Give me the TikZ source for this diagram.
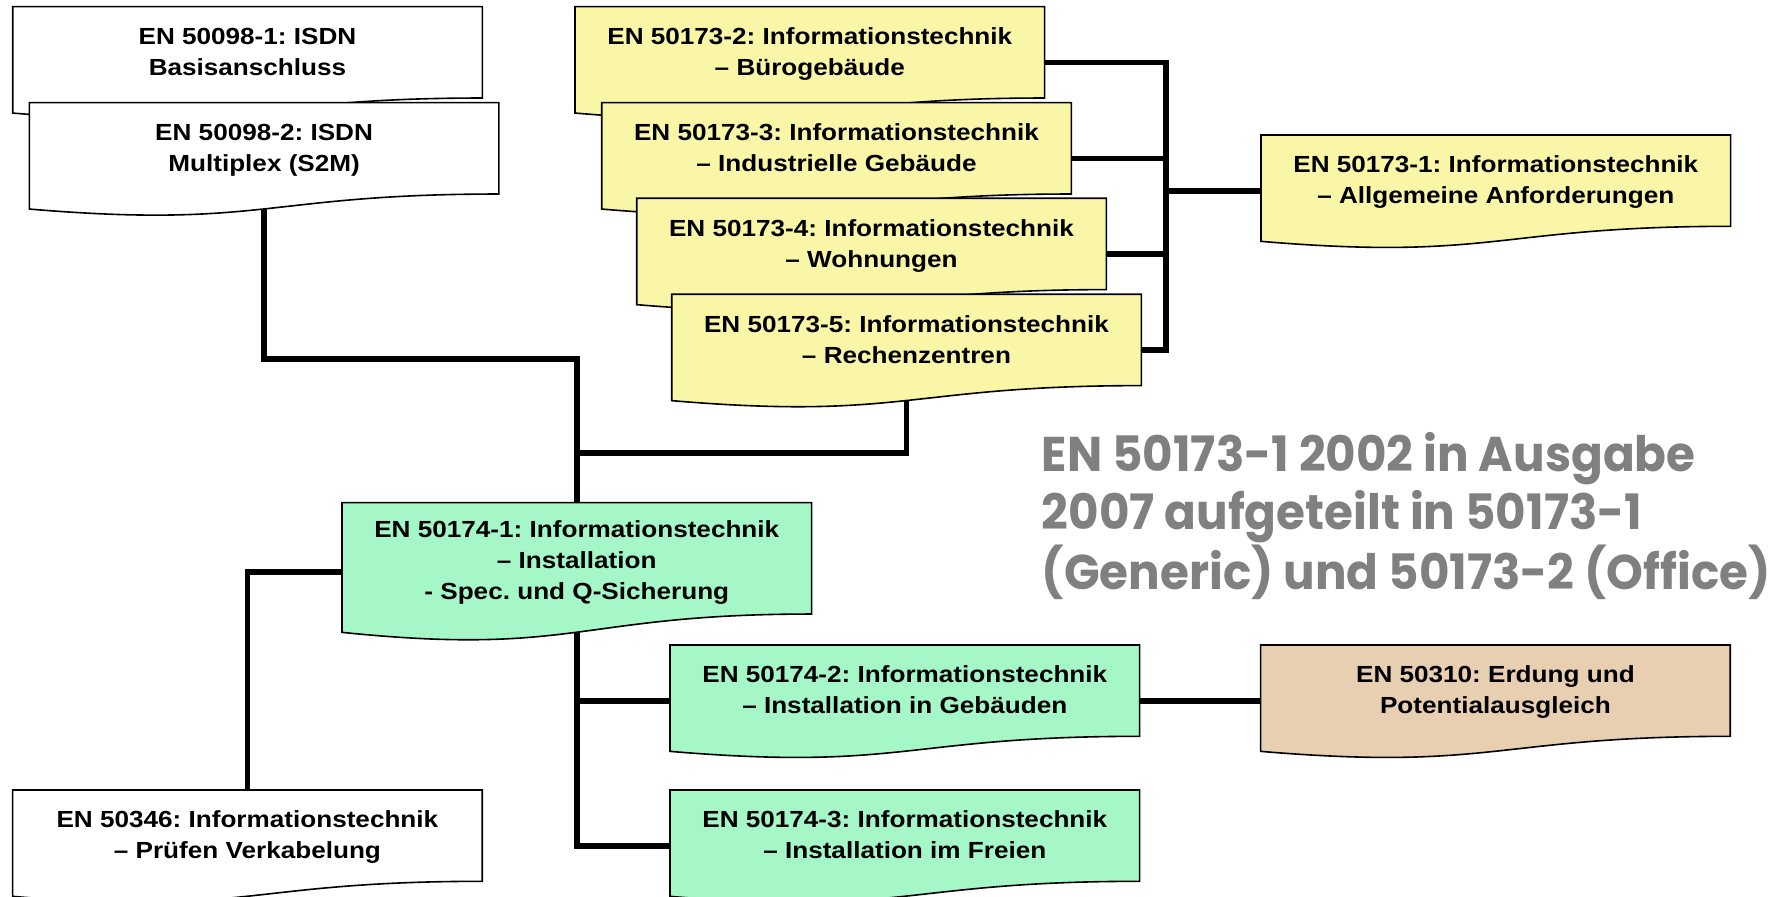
\documentclass[tikz,border=0pt]{standalone}
\usepackage{fontspec}
\newfontfamily\boxfont{Liberation Sans}[FakeStretch=1.12]
\newfontfamily\notefont{Poppins}[FakeStretch=0.96]
\usetikzlibrary{backgrounds}
\frenchspacing
\makeatletter
\newdimen\docxa \newdimen\docxb \newdimen\docya \newdimen\docyb
\newdimen\docHr \newdimen\doch \newdimen\docyR \newdimen\docyL \newdimen\docyC \newdimen\docxm
\def\docK{1.0204}
\pgfdeclareshape{docshape}{%
  \inheritsavedanchors[from=rectangle]%
  \inheritanchorborder[from=rectangle]%
  \inheritanchor[from=rectangle]{center}%
  \inheritanchor[from=rectangle]{north}%
  \inheritanchor[from=rectangle]{south}%
  \inheritanchor[from=rectangle]{east}%
  \inheritanchor[from=rectangle]{west}%
  \inheritanchor[from=rectangle]{north east}%
  \inheritanchor[from=rectangle]{north west}%
  \inheritanchor[from=rectangle]{south east}%
  \inheritanchor[from=rectangle]{south west}%
  \inheritanchor[from=rectangle]{text}%
  \inheritanchor[from=rectangle]{base}%
  \inheritanchor[from=rectangle]{mid}%
  \backgroundpath{%
    \southwest \docxa=\pgf@x \docya=\pgf@y
    \northeast \docxb=\pgf@x \docyb=\pgf@y
    \docHr=\docyb \advance\docHr by -\docya
    \doch=\docK\docHr
    \docyR=\docyb \advance\docyR by -0.802\doch
    \docyL=\docyb \advance\docyL by -0.934\doch
    \docyC=\docyb \advance\docyC by -1.1075\doch
    \docxm=.5\docxa \advance\docxm by .5\docxb
    \pgfpathmoveto{\pgfqpoint{\docxa}{\docyb}}%
    \pgfpathlineto{\pgfqpoint{\docxb}{\docyb}}%
    \pgfpathlineto{\pgfqpoint{\docxb}{\docyR}}%
    \pgfpathcurveto{\pgfqpoint{\docxm}{\docyR}}{\pgfqpoint{\docxm}{\docyC}}{\pgfqpoint{\docxa}{\docyL}}%
    \pgfpathclose
  }%
}
\makeatother
\def\docpad{\rule[-11pt]{0pt}{11pt}}
\definecolor{docyellow}{HTML}{F9F6A7}
\definecolor{docgreen}{HTML}{A6F7C7}
\definecolor{doctan}{HTML}{E8CFB2}
\definecolor{notegray}{HTML}{808080}
\tikzset{
  doc/.style={shape=docshape, draw=black, line width=0.8pt, inner sep=0pt,
    minimum width=234pt, minimum height=55pt, align=center, anchor=north west,
    font=\boxfont\bfseries\fontsize{11.66pt}{15.5pt}\selectfont,
    execute at end node={\docpad}},
  dock/.code={\def\docK{#1}},
  nopad/.code={\def\docpad{}},
  conn/.style={line width=2.8pt},
  note/.style={anchor=north west, inner sep=0pt, align=left, text=notegray,
    font=\notefont\bfseries\fontsize{24.4pt}{28.85pt}\selectfont}
}
\begin{document}
\begin{tikzpicture}[x=0.5pt, y=-0.5pt]
\useasboundingbox (0,0) rectangle (1769,897);
% white boxes
\node[doc, fill=white] (A1) at (12.7,6.7) {EN 50098-1: ISDN\\Basisanschluss};
\node[doc, fill=white] (A2) at (29.3,102.7) {EN 50098-2: ISDN\\Multiplex (S2M)};
% yellow stack
\node[doc, fill=docyellow] (Y2) at (575,6.7) {EN 50173-2: Informationstechnik\\– Bürogebäude};
\node[doc, fill=docyellow] (Y3) at (601.7,102.7) {EN 50173-3: Informationstechnik\\– Industrielle Gebäude};
\node[doc, fill=docyellow] (Y4) at (636.7,198.3) {EN 50173-4: Informationstechnik\\– Wohnungen};
\node[doc, fill=docyellow] (Y5) at (671.7,294.3) {EN 50173-5: Informationstechnik\\– Rechenzentren};
\node[doc, fill=docyellow] (Y1) at (1261,135) {EN 50173-1: Informationstechnik\\– Allgemeine Anforderungen};
% green
\node[doc, fill=docgreen, minimum height=59.3pt, dock=1.155, nopad] (G1) at (342,502.7) {EN 50174-1: Informationstechnik\\– Installation\\- Spec. und Q-Sicherung};
\node[doc, fill=docgreen] (G2) at (670,645) {EN 50174-2: Informationstechnik\\– Installation in Gebäuden};
\node[doc, fill=docgreen] (G3) at (670,790) {EN 50174-3: Informationstechnik\\– Installation im Freien};
\node[doc, fill=doctan] (E) at (1260.6,645) {EN 50310: Erdung und\\Potentialausgleich};
\node[doc, fill=white] (W) at (12.6,790) {EN 50346: Informationstechnik\\– Prüfen Verkabelung};
% note
\node[note] (note) at (1041.5,432) {EN 50173-1 2002 in Ausgabe\\2007 aufgeteilt in 50173-1\\(Generic) und 50173-2 (Office)};
% helper coordinates
\coordinate (ja) at (0,359);
\coordinate (jb) at (0,453);
\coordinate (bus) at (1166,0);
\coordinate (g1w) at ([yshift=-4.5pt]G1.center);
\begin{pgfonlayer}{background}
\fill[white] (0,0) rectangle (1769,897);
\draw[conn] (A2.center) |- (G1.center |- ja) -- (G1.center);
\draw[conn] (Y5.center) |- (G1.center |- jb);
\draw[conn] (Y2.center) -| (bus |- Y5.center) -- (Y5.center);
\draw[conn] (Y3.center) -- (Y3.center -| bus);
\draw[conn] (Y4.center) -- (Y4.center -| bus);
\draw[conn] (Y1.center) -- (Y1.center -| bus);
\draw[conn] (g1w) -| (W.center);
\draw[conn] (G1.center) |- (G2.center);
\draw[conn] (G1.center) |- (G3.center);
\draw[conn] (G2.center) -- (E.center);
\end{pgfonlayer}
\end{tikzpicture}
\end{document}
